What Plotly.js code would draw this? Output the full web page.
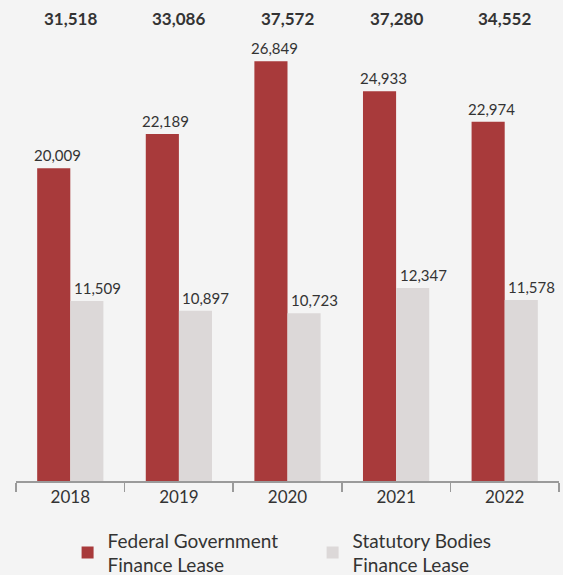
<!DOCTYPE html>
<html><head><meta charset="utf-8">
<script src="https://cdn.plot.ly/plotly-3.0.1.min.js"></script>
<style>html,body{margin:0;padding:0;background:#f4f4f4;}</style>
</head><body><div id="chart" style="width:563px;height:575px;"></div>
<script>
const years = ['2018','2019','2020','2021','2022'];
const federal = [20009, 22189, 26849, 24933, 22974];
const statutory = [11509, 10897, 10723, 12347, 11578];
const totals = [31518, 33086, 37572, 37280, 34552];
const seriesNames = ['Federal Government<br>Finance Lease', 'Statutory Bodies<br>Finance Lease'];

const fmt = v => v.toLocaleString('en-US');
const FONT = 'Lato, "Open Sans", sans-serif';

const traces = [
  {type:'bar', x:years, y:federal, name:seriesNames[0], marker:{color:'#a83a3b'}, hoverinfo:'none'},
  {type:'bar', x:years, y:statutory, name:seriesNames[1], marker:{color:'#dcd8d8'}, hoverinfo:'none'}
];

const ann = [];
years.forEach((yr,i)=>{
  ann.push({x:i, y:federal[i], xref:'x', yref:'y', text:fmt(federal[i]), showarrow:false,
    yanchor:'bottom', xanchor:'center', xshift:-13, yshift:2, font:{family:FONT, size:15, color:'#333'}});
  ann.push({x:i, y:statutory[i], xref:'x', yref:'y', text:fmt(statutory[i]), showarrow:false,
    yanchor:'bottom', xanchor:'center', xshift:27, yshift:2, font:{family:FONT, size:15, color:'#333'}});
  ann.push({x:i, y:1.0, xref:'x', yref:'paper', text:'<b>'+fmt(totals[i])+'</b>', showarrow:false,
    yanchor:'middle', xanchor:'center', yshift:-6, font:{family:FONT, size:17, color:'#333'}});
});

const layout = {
  width:563, height:575,
  paper_bgcolor:'#f4f4f4', plot_bgcolor:'#f4f4f4',
  margin:{l:16, r:4, t:12, b:94, autoexpand:false},
  barmode:'group', bargap:0.39, bargroupgap:0,
  showlegend:true,
  legend:{orientation:'h', x:0.095, xanchor:'left', y:-0.086, yanchor:'top',
    font:{family:FONT, size:19, color:'#333'}, bgcolor:'rgba(0,0,0,0)', entrywidth:200, entrywidthmode:'pixels', traceorder:'normal'},
  xaxis:{type:'category', range:[-0.5,4.5], autorange:false, showline:true, linecolor:'#9a9a9a', linewidth:1.5,
    ticks:'outside', tickson:'boundaries', ticklen:9, tickcolor:'#9a9a9a', tickwidth:1.5,
    tickfont:{family:FONT, size:17, color:'#333'}, showgrid:false, zeroline:false, fixedrange:true},
  yaxis:{range:[0,30000], autorange:false, visible:false, showgrid:false, zeroline:false, fixedrange:true},
  annotations:ann,
  font:{family:FONT, color:'#333'}
};
Plotly.newPlot('chart', traces, layout, {displayModeBar:false, staticPlot:true});
</script></body></html>
